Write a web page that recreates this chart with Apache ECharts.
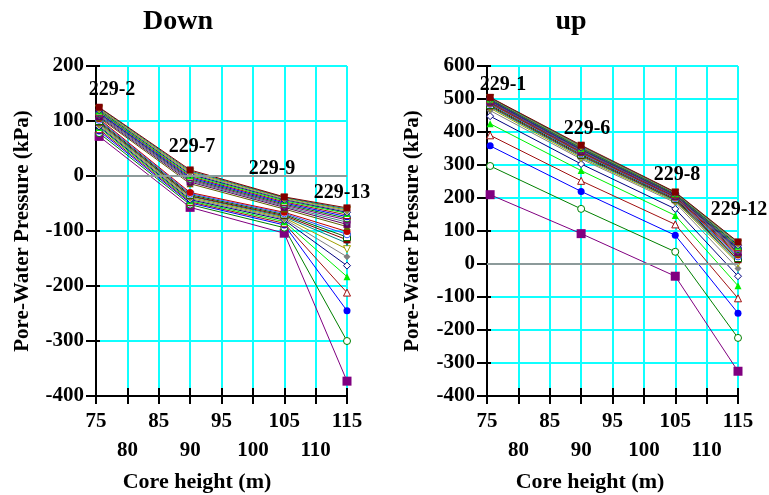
<!DOCTYPE html>
<html>
<head>
<meta charset="utf-8">
<script src="https://cdn.jsdelivr.net/npm/echarts@6/dist/echarts.min.js"></script>
<style>
  html, body { margin: 0; padding: 0; background: #fff; }
  #chart { width: 769px; height: 495px; }
</style>
</head>
<body>
<div id="chart"></div>
<script>
// Core heights (m) of the four piezometers along each section
const coreHeights = [75.5, 90, 105, 115];
const downWells = ['229-2', '229-7', '229-9', '229-13'];
const upWells = ['229-1', '229-6', '229-8', '229-12'];
const xTicksUpper = [75, 85, 95, 105, 115];
const xTicksLower = [80, 90, 100, 110];
const downTicks = [-400, -300, -200, -100, 0, 100, 200];
const upTicks = [-400, -300, -200, -100, 0, 100, 200, 300, 400, 500, 600];

// Pore-water pressure (kPa) per time step, one row per step
const downPressure = [
  [72, -57, -104, -373],
  [78, -52, -94, -300],
  [82, -49, -89, -245],
  [85, -47, -86, -212],
  [88, -45, -83, -183],
  [90, -43, -80, -163],
  [92, -41, -78, -147],
  [94, -39, -76, -133],
  [96, -37, -74, -122],
  [98, -36, -72, -116],
  [100, -34, -70, -111],
  [102, -32, -68, -106],
  [104, -30, -66, -101],
  [106, -14, -60, -92],
  [108, -11, -57, -88],
  [110, -9, -55, -84],
  [112, -7, -53, -80],
  [114, -5, -51, -77],
  [115, -3, -49, -74],
  [117, -1, -47, -71],
  [118, 1, -45, -68],
  [120, 3, -43, -66],
  [121, 5, -42, -64],
  [122, 7, -40, -62],
  [124, 9, -39, -60],
  [125, 11, -38, -58]
];
const upPressure = [
  [210, 92, -37, -325],
  [297, 167, 37, -224],
  [358, 220, 87, -149],
  [390, 252, 120, -104],
  [425, 283, 147, -66],
  [448, 303, 167, -37],
  [465, 318, 186, -14],
  [472, 322, 190, 2],
  [476, 326, 193, 8],
  [479, 329, 195, 13],
  [482, 332, 198, 18],
  [485, 335, 200, 23],
  [487, 337, 202, 27],
  [489, 339, 204, 31],
  [491, 341, 205, 35],
  [493, 343, 207, 39],
  [494, 345, 208, 42],
  [496, 347, 210, 45],
  [497, 348, 211, 48],
  [499, 350, 212, 51],
  [500, 351, 213, 54],
  [501, 353, 214, 57],
  [502, 354, 215, 60],
  [503, 356, 216, 62],
  [504, 358, 217, 65],
  [505, 360, 218, 67]
];

const SERIF = '"Liberation Serif", "Times New Roman", serif';
const GRID_CYAN = '#10ffff';
const TRI_DOWN = 'path://M0,0 L10,0 L5,9 Z';
const palette = ['#800080', '#008000', '#0000ff', '#a01010', '#00ee00', '#000080',
  '#808080', '#a0a000', '#008080', '#800000', '#006400', '#3050ff', '#c00000',
  '#606000', '#600060', '#408080'];
// [symbol, filled]
const markers = [
  ['rect', true], ['circle', false], ['circle', true], ['triangle', false],
  ['triangle', true], ['diamond', false], ['diamond', true], [TRI_DOWN, false],
  [TRI_DOWN, true], ['rect', true], ['rect', false], ['circle', false],
  ['circle', true], ['triangle', true], ['rect', true], ['diamond', true]
];

function buildSeries(rows, gi) {
  return rows.map((row, i) => {
    const color = palette[i % palette.length];
    const mk = markers[i % markers.length];
    const s = {
      type: 'line',
      xAxisIndex: gi * 2,
      yAxisIndex: gi * 2,
      data: row.map((v, k) => [coreHeights[k], v]),
      symbol: mk[0],
      symbolSize: i === 0 ? 9 : 7,
      showAllSymbol: true,
      lineStyle: { color: color, width: 1 },
      itemStyle: mk[1]
        ? { color: color, borderColor: color, borderWidth: 0 }
        : { color: '#ffffff', borderColor: color, borderWidth: 1 },
      emphasis: { disabled: true },
      animation: false,
      z: 3
    };
    if (i === 0) {
      s.markLine = {
        silent: true,
        symbol: ['none', 'none'],
        label: { show: false },
        lineStyle: { color: '#8c9a9a', width: 2, type: 'solid' },
        data: [{ yAxis: 0 }],
        animation: false
      };
    }
    return s;
  });
}

function xAxes(gi) {
  const base = { type: 'value', gridIndex: gi, position: 'bottom', min: 75, max: 115, interval: 5 };
  return [
    Object.assign({}, base, {
      axisLine: { show: true, onZero: false, lineStyle: { color: '#000', width: 2 } },
      axisTick: { show: true, inside: false, length: 8, lineStyle: { color: '#000', width: 2 } },
      axisLabel: {
        show: true, margin: 11, color: '#000',
        fontFamily: SERIF, fontWeight: 'bold', fontSize: 21, lineHeight: 29,
        showMinLabel: true, showMaxLabel: true, hideOverlap: false,
        formatter: v => xTicksUpper.includes(v) ? String(v)
          : (xTicksLower.includes(v) ? '\n' + v : '')
      },
      splitLine: { show: true, lineStyle: { color: GRID_CYAN, width: 2, opacity: 1 } },
      minorSplitLine: { show: false }
    }),
    Object.assign({}, base, {
      axisLine: { show: false, onZero: false },
      axisTick: { show: true, inside: true, length: 8, lineStyle: { color: '#000', width: 2 } },
      axisLabel: { show: false },
      splitLine: { show: false },
      minorSplitLine: { show: false }
    })
  ];
}

function yAxes(gi, ticks) {
  const base = {
    type: 'value', gridIndex: gi, position: 'left',
    min: ticks[0], max: ticks[ticks.length - 1], interval: 100
  };
  return [
    Object.assign({}, base, {
      axisLine: { show: true, onZero: false, lineStyle: { color: '#000', width: 2 } },
      axisTick: { show: true, inside: false, length: 10, lineStyle: { color: '#000', width: 2 } },
      axisLabel: {
        show: true, margin: 12, color: '#000',
        fontFamily: SERIF, fontWeight: 'bold', fontSize: 21,
        showMinLabel: true, showMaxLabel: true
      },
      splitLine: { show: true, lineStyle: { color: GRID_CYAN, width: 2, opacity: 1 } },
      minorSplitLine: { show: false }
    }),
    Object.assign({}, base, {
      axisLine: { show: false, onZero: false },
      axisTick: { show: true, inside: true, length: 4, lineStyle: { color: '#000', width: 2 } },
      axisLabel: { show: false },
      splitLine: { show: false },
      minorSplitLine: { show: false }
    })
  ];
}

function text(x, y, str, size, rot) {
  return {
    type: 'text', x: x, y: y, rotation: rot || 0, z: 100, silent: true,
    style: {
      text: str, fill: '#000', align: 'center', verticalAlign: 'middle',
      font: 'bold ' + size + 'px ' + SERIF
    }
  };
}

// Borehole labels above each column of points
const downLabelPos = [[112, 90], [192, 147], [272, 169], [342, 193]];
const upLabelPos = [[503, 85], [587, 129], [677, 175], [739, 210]];

const graphics = [
  text(178, 22, 'Down', 28),
  text(571, 22, 'up', 28),
  text(23, 231, 'Pore-Water Pressure (kPa)', 21, Math.PI / 2),
  text(413, 231, 'Pore-Water Pressure (kPa)', 21, Math.PI / 2),
  text(197, 482, 'Core height (m)', 22),
  text(590, 482, 'Core height (m)', 22)
];
downWells.forEach((w, i) => graphics.push(text(downLabelPos[i][0], downLabelPos[i][1], w, 20)));
upWells.forEach((w, i) => graphics.push(text(upLabelPos[i][0], upLabelPos[i][1], w, 20)));

const chart = echarts.init(document.getElementById('chart'), null, { renderer: 'canvas' });
chart.setOption({
  backgroundColor: '#ffffff',
  animation: false,
  grid: [
    { left: 96, top: 66, width: 251, height: 330 },
    { left: 487, top: 66, width: 251, height: 330 }
  ],
  xAxis: xAxes(0).concat(xAxes(1)),
  yAxis: yAxes(0, downTicks).concat(yAxes(1, upTicks)),
  series: buildSeries(downPressure, 0).concat(buildSeries(upPressure, 1)),
  graphic: graphics
});
</script>
</body>
</html>
